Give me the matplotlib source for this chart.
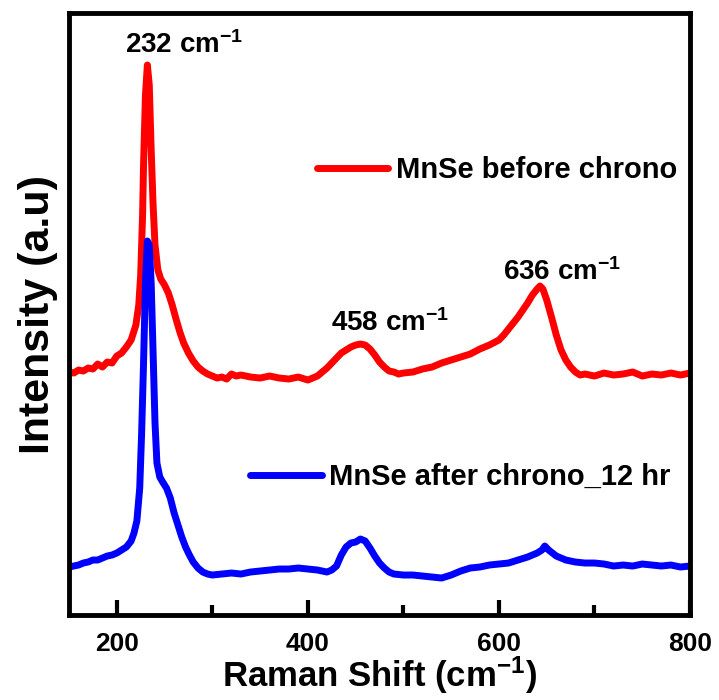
import matplotlib
matplotlib.use("Agg")
import matplotlib.pyplot as plt
from matplotlib.lines import Line2D
from matplotlib.ticker import MultipleLocator

# Raman shift (cm^-1) and intensities (arbitrary units)
red_x = [150, 155, 160, 165, 170, 175, 180, 185, 190, 195, 200, 205, 210, 215, 220, 223,
         225, 227, 228, 230, 232, 234, 236, 238, 240, 243, 246, 250, 254, 258, 262, 266,
         270, 275, 280, 285, 290, 295, 300, 305, 310, 315, 320, 325, 330, 340, 350, 360,
         370, 380, 390, 400, 405, 410, 415, 420, 425, 430, 435, 440, 445, 450, 455, 460,
         465, 470, 475, 480, 485, 490, 495, 500, 510, 520, 530, 540, 550, 560, 570, 580,
         590, 600, 605, 610, 615, 620, 625, 630, 635, 640, 643, 646, 650, 655, 660, 665,
         670, 675, 680, 685, 690, 700, 710, 720, 730, 740, 750, 760, 770, 780, 790, 800]
red_y = [243, 242, 245, 244, 247, 246, 251, 248, 253, 252, 259, 262, 268, 275, 290, 310,
         340, 400, 450, 520, 550, 530, 465, 410, 370, 345, 336, 330, 322, 310, 296, 283,
         272, 262, 254, 248, 244, 241, 239, 237, 238, 236, 241, 239, 240, 238, 237, 239,
         237, 236, 238, 235, 237, 239, 243, 247, 252, 257, 262, 265, 268, 270, 271, 270,
         266, 260, 253, 248, 244, 243, 241, 242, 243, 246, 248, 252, 255, 258, 261, 266,
         270, 275, 280, 286, 292, 298, 305, 312, 320, 326, 329, 326, 315, 298, 280, 265,
         255, 248, 243, 240, 241, 239, 242, 240, 241, 243, 239, 241, 240, 242, 240, 242]

blue_x = [150, 155, 160, 165, 170, 175, 180, 185, 190, 195, 200, 205, 210, 215, 218, 221,
          224, 226, 228, 230, 232, 234, 236, 238, 240, 242, 245, 248, 252, 256, 260, 264,
          268, 272, 276, 280, 285, 290, 295, 300, 310, 320, 330, 340, 350, 360, 370, 380,
          390, 400, 410, 420, 425, 430, 435, 440, 445, 450, 455, 460, 465, 470, 475, 480,
          485, 490, 500, 510, 520, 530, 540, 550, 560, 570, 580, 590, 600, 610, 620, 630,
          640, 645, 648, 652, 656, 660, 670, 680, 690, 700, 710, 720, 730, 740, 750, 760,
          770, 780, 790, 800]
blue_y = [48, 49, 50, 52, 53, 55, 55, 57, 59, 60, 62, 65, 68, 74, 82, 94,
          127, 182, 252, 332, 374, 370, 332, 262, 192, 152, 138, 133, 127, 117, 102, 90,
          78, 68, 60, 53, 47, 43, 41, 40, 41, 42, 41, 43, 44, 45, 46, 46,
          47, 46, 45, 43, 45, 49, 60, 68, 72, 73, 76, 74, 67, 59, 52, 47,
          43, 41, 40, 40, 39, 38, 37, 40, 44, 47, 48, 50, 51, 52, 55, 58,
          62, 65, 69, 65, 62, 59, 55, 53, 52, 52, 51, 49, 50, 49, 51, 50,
          49, 50, 48, 49]

series_labels = ["MnSe before chrono", "MnSe after chrono_12 hr"]
peak_labels = ["232 cm$^{\\mathregular{-1}}$", "458 cm$^{\\mathregular{-1}}$", "636 cm$^{\\mathregular{-1}}$"]
peak_label_pos = [(270, 570), (486, 292), (666, 343)]

xlim = (150, 800)
ylim = (0, 602)

plt.rcParams['font.family'] = ['Liberation Sans', 'DejaVu Sans']
plt.rcParams['mathtext.default'] = 'regular'

fig = plt.figure(figsize=(7.19, 7.00), dpi=100)
ax = fig.add_axes([0.096, 0.1214, 0.8637, 0.86])

ax.plot(red_x, red_y, color='#ff0000', lw=5, solid_joinstyle='round')
ax.plot(blue_x, blue_y, color='#0000ff', lw=5, solid_joinstyle='round')

ax.set_xlim(*xlim)
ax.set_ylim(*ylim)
ax.set_yticks([])
ax.xaxis.set_major_locator(MultipleLocator(200))
ax.xaxis.set_minor_locator(MultipleLocator(100))
ax.tick_params(axis='x', which='major', direction='in', length=11, width=3, pad=12,
               labelsize=19)
ax.tick_params(axis='x', which='minor', direction='in', length=7, width=3)
for lab in ax.get_xticklabels():
    lab.set_fontweight('bold')
for s in ax.spines.values():
    s.set_linewidth(3.5)

ax.set_xlabel("Raman Shift (cm$^{\\mathregular{-1}}$)", fontsize=25, fontweight='bold', labelpad=-1)
ax.set_ylabel("Intensity (a.u)", fontsize=31, fontweight='bold', labelpad=8)

for txt, (px, py) in zip(peak_labels, peak_label_pos):
    ax.text(px, py, txt, ha='center', va='center', fontsize=20, fontweight='bold')

h_red = Line2D([], [], color='#ff0000', lw=5, solid_capstyle='round')
h_blue = Line2D([], [], color='#0000ff', lw=5, solid_capstyle='round')
leg1 = ax.legend([h_red], [series_labels[0]], loc='center left', bbox_to_anchor=(0.399, 0.739),
                 frameon=False, handlelength=2.45, handletextpad=0.25, borderpad=0,
                 borderaxespad=0, prop={'weight': 'bold', 'size': 21})
ax.add_artist(leg1)
leg2 = ax.legend([h_blue], [series_labels[1]], loc='center left', bbox_to_anchor=(0.2915, 0.229),
                 frameon=False, handlelength=2.45, handletextpad=0.25, borderpad=0,
                 borderaxespad=0, prop={'weight': 'bold', 'size': 21})

fig.savefig('out.png', dpi=100)
